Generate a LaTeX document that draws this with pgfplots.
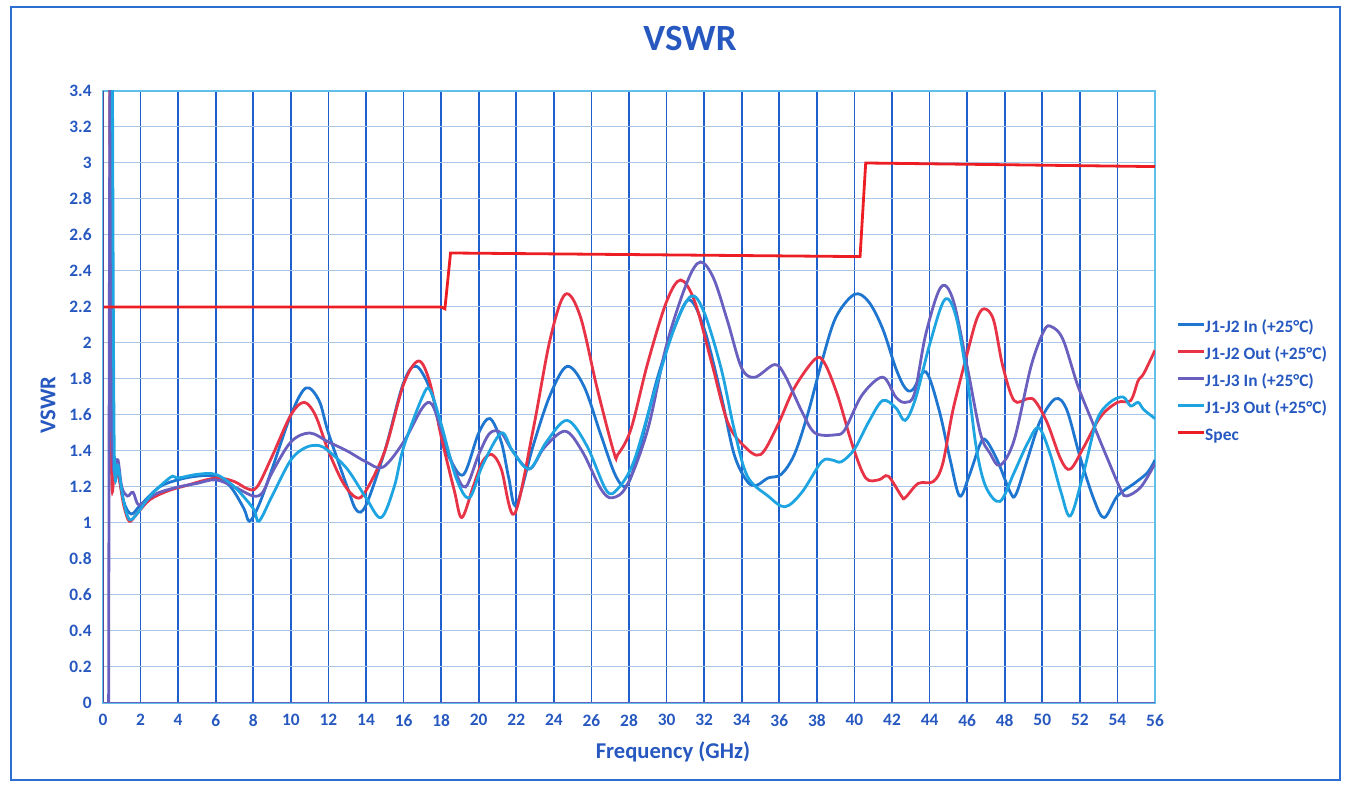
\documentclass[border=0pt]{standalone}
\usepackage{pgfplots}
\pgfplotsset{compat=1.18}
\usepackage{fontspec}
\setmainfont{Carlito}
\definecolor{txtblue}{RGB}{38,88,192}
\definecolor{cA}{RGB}{30,118,208}
\definecolor{cB}{RGB}{232,50,70}
\definecolor{cC}{RGB}{105,95,190}
\definecolor{cD}{RGB}{30,165,225}
\definecolor{cSpec}{RGB}{236,30,35}
\definecolor{vgrid}{RGB}{30,95,205}
\definecolor{hgrid}{RGB}{170,198,232}
\definecolor{bordercol}{RGB}{45,110,210}
\begin{document}
\begin{tikzpicture}[x=1pt,y=1pt]
\path[use as bounding box] (-51.5,-41) rectangle (624,351.5);
\draw[bordercol, line width=1pt] (-46,-38.5) rectangle (618.5,348);
\begin{axis}[
  at={(0,0)}, anchor=south west,
  scale only axis, width=526pt, height=306pt,
  xmin=0, xmax=56, ymin=0, ymax=3.4,
  xtick distance=2, ytick distance=0.2,
  major tick length=0pt,
  grid=major,
  x grid style={vgrid, line width=0.9pt},
  y grid style={hgrid, line width=0.5pt},
  axis line style={draw=cD!70, line width=0.6pt},
  /pgf/number format/assume math mode=true,
  ticklabel style={font=\fontsize{8.7}{10}\selectfont\bfseries, text=txtblue},
  yticklabel style={inner sep=0pt, xshift=-5.5pt},
  xticklabel style={inner sep=0pt, yshift=-5.5pt},
  title={VSWR},
  title style={font=\fontsize{18.5}{20}\selectfont\bfseries, text=txtblue, at={(axis description cs:0.558,1.0458)}, anchor=base, inner sep=0pt},
  xlabel={Frequency (GHz)},
  xlabel style={font=\fontsize{11.3}{13}\selectfont\bfseries, text=txtblue, at={(axis description cs:0.5418,-0.0899)}, anchor=base, inner sep=0pt},
  ylabel={VSWR},
  ylabel style={font=\fontsize{11.3}{13}\selectfont\bfseries, text=txtblue, at={(axis description cs:-0.0452,0.487)}, anchor=base, inner sep=0pt},
  legend style={at={(axis description cs:1.0143,0.6315)}, anchor=north west, draw=none, fill=none,
    font=\fontsize{8.7}{10}\selectfont\bfseries, text=txtblue, row sep=5.7pt,
    nodes={inner sep=0pt, text height=6pt, text depth=1.8pt}},
  legend cell align=left,
  legend image code/.code={\draw[#1, line width=1.4pt] (-1pt,2.3pt) -- (12pt,2.3pt);},
  every axis plot/.append style={line width=1.4pt, smooth, tension=0.55},
]
\addplot[cA] coordinates {
(0.4,3.6)(0.5,1.55)(0.8,1.3)(1.1,1.12)(1.5,1.05)(2,1.1)(3,1.2)(4,1.24)(5,1.26)(6,1.26)(6.8,1.2)(7.5,1.08)(7.8,1.01)(8.3,1.1)(9,1.3)(10,1.6)(10.8,1.75)(11.5,1.68)(12,1.5)(13,1.2)(13.5,1.07)(14,1.1)(15,1.4)(16,1.78)(16.7,1.87)(17.5,1.72)(18,1.5)(18.5,1.35)(19.2,1.27)(20,1.5)(20.6,1.58)(21.2,1.45)(21.6,1.25)(22,1.1)(22.9,1.43)(23.8,1.71)(24.7,1.87)(25.6,1.76)(26.5,1.49)(27.3,1.26)(27.9,1.21)(28.6,1.43)(29.5,1.8)(30.4,2.08)(31.2,2.24)(32,2.08)(32.9,1.71)(33.6,1.38)(34.3,1.23)(34.8,1.21)(35.4,1.25)(36.1,1.27)(36.8,1.38)(37.5,1.6)(38.25,1.89)(39,2.14)(40,2.27)(40.75,2.23)(41.5,2.08)(42.2,1.86)(42.7,1.75)(43.1,1.74)(43.8,1.84)(44.5,1.63)(45.1,1.35)(45.6,1.15)(46.1,1.26)(46.7,1.44)(47,1.46)(47.6,1.35)(48.3,1.17)(48.6,1.16)(49.2,1.35)(49.9,1.57)(50.7,1.69)(51.3,1.63)(52,1.37)(52.75,1.13)(53.3,1.03)(54,1.15)(54.9,1.22)(55.6,1.28)(56,1.35)
};
\addlegendentry{J1-J2 In (+25°C)}
\addplot[cB] coordinates {
(0.35,3.6)(0.45,1.35)(0.6,1.27)(0.85,1.25)(1.1,1.1)(1.4,1.01)(1.8,1.05)(2.5,1.13)(3.5,1.18)(4.5,1.21)(5.5,1.24)(6.2,1.25)(7,1.23)(7.7,1.19)(8.2,1.2)(9,1.37)(10,1.6)(10.7,1.67)(11.3,1.6)(12,1.4)(12.8,1.22)(13.5,1.14)(14,1.18)(15,1.4)(16,1.77)(16.8,1.9)(17.4,1.78)(18,1.48)(18.7,1.18)(19.1,1.03)(19.7,1.2)(20.2,1.34)(20.7,1.38)(21.2,1.3)(21.9,1.05)(22.9,1.52)(23.8,2.02)(24.6,2.27)(25.4,2.15)(26.3,1.75)(27.2,1.39)(27.4,1.38)(28.1,1.52)(29,1.89)(30,2.23)(30.75,2.35)(31.5,2.23)(32.4,1.89)(33.25,1.56)(34.1,1.43)(35,1.38)(35.9,1.54)(36.8,1.75)(37.9,1.91)(38.4,1.89)(39.1,1.71)(39.9,1.43)(40.6,1.25)(41.3,1.24)(41.8,1.26)(42.5,1.15)(42.7,1.14)(43.4,1.22)(44.2,1.23)(44.7,1.33)(45.25,1.63)(46,1.94)(46.5,2.13)(46.9,2.19)(47.4,2.13)(47.9,1.87)(48.5,1.68)(49.2,1.69)(49.6,1.68)(50.25,1.56)(51,1.35)(51.5,1.3)(52.2,1.42)(53.1,1.59)(54,1.67)(54.7,1.68)(55.1,1.79)(55.4,1.83)(56,1.96)
};
\addlegendentry{J1-J2 Out (+25°C)}
\addplot[cC] coordinates {
(0.3,0)(0.38,3.6)(0.5,1.45)(0.8,1.35)(1.0,1.2)(1.3,1.15)(1.6,1.17)(1.9,1.1)(2.5,1.14)(3,1.17)(4,1.2)(5,1.22)(6,1.24)(7,1.2)(8,1.15)(8.5,1.17)(9,1.28)(10,1.45)(11,1.5)(12,1.45)(13,1.4)(14,1.34)(14.9,1.31)(16,1.45)(17,1.64)(17.5,1.66)(18,1.52)(18.7,1.3)(19.3,1.2)(20,1.38)(20.6,1.5)(21.2,1.5)(21.8,1.4)(22.7,1.3)(23.5,1.42)(24.6,1.51)(25.5,1.4)(26.5,1.19)(27.1,1.14)(27.9,1.21)(29,1.52)(30,1.99)(31.1,2.34)(31.8,2.45)(32.5,2.36)(33.25,2.12)(34,1.86)(34.7,1.81)(35.75,1.88)(36.3,1.82)(37.2,1.62)(37.9,1.5)(39,1.49)(39.5,1.52)(40.4,1.71)(41.5,1.81)(42.2,1.7)(42.7,1.67)(43.2,1.72)(43.8,2.05)(44.6,2.31)(45.25,2.24)(46,1.87)(46.7,1.5)(47.2,1.39)(47.75,1.32)(48.5,1.46)(49.4,1.87)(50.1,2.07)(50.5,2.09)(51.1,2.02)(51.9,1.76)(52.75,1.54)(53.5,1.35)(54.2,1.18)(54.5,1.15)(55.25,1.2)(56,1.33)
};
\addlegendentry{J1-J3 In (+25°C)}
\addplot[cD] coordinates {
(0.5,3.6)(0.6,1.4)(0.8,1.32)(1.1,1.12)(1.4,1.02)(1.8,1.05)(2.5,1.15)(3.2,1.22)(3.7,1.26)(4,1.25)(5,1.27)(6,1.27)(7,1.2)(8,1.08)(8.3,1.01)(9,1.15)(10,1.35)(10.8,1.42)(11.5,1.43)(12,1.4)(13,1.3)(14,1.14)(14.8,1.03)(15.5,1.2)(16,1.42)(17,1.7)(17.4,1.74)(18,1.55)(18.8,1.25)(19.5,1.14)(20.2,1.32)(21.2,1.5)(21.8,1.4)(22.7,1.3)(23.6,1.45)(24.7,1.57)(25.75,1.43)(26.8,1.18)(27.4,1.19)(28.25,1.34)(29.3,1.71)(30.4,2.08)(31.3,2.26)(32,2.17)(32.9,1.86)(33.6,1.52)(34.3,1.26)(35.4,1.15)(36.3,1.09)(37.2,1.17)(38.25,1.34)(38.8,1.35)(39.3,1.34)(40,1.41)(40.75,1.56)(41.5,1.68)(42.2,1.64)(42.7,1.57)(43.25,1.69)(44,1.99)(44.8,2.24)(45.4,2.15)(46,1.8)(46.5,1.41)(47,1.2)(47.75,1.12)(48.5,1.28)(49.2,1.44)(49.8,1.53)(50.4,1.39)(51,1.17)(51.5,1.04)(52.2,1.28)(52.9,1.57)(53.6,1.67)(54.3,1.7)(54.7,1.65)(55.1,1.67)(55.4,1.63)(56,1.58)
};
\addlegendentry{J1-J3 Out (+25°C)}
\addplot[cSpec, sharp plot] coordinates {
(0,2.2)(18,2.2)(18.2,2.19)(18.5,2.5)(40.3,2.48)(40.6,3.0)(56,2.98)
};
\addlegendentry{Spec}
\draw[cC!80!black, line width=0.8pt] (axis description cs:0,0) -- (axis description cs:0,1);
\draw[cC, line width=0.8pt] (axis description cs:0,0) -- (axis description cs:1,0);
\end{axis}
\end{tikzpicture}
\end{document}
